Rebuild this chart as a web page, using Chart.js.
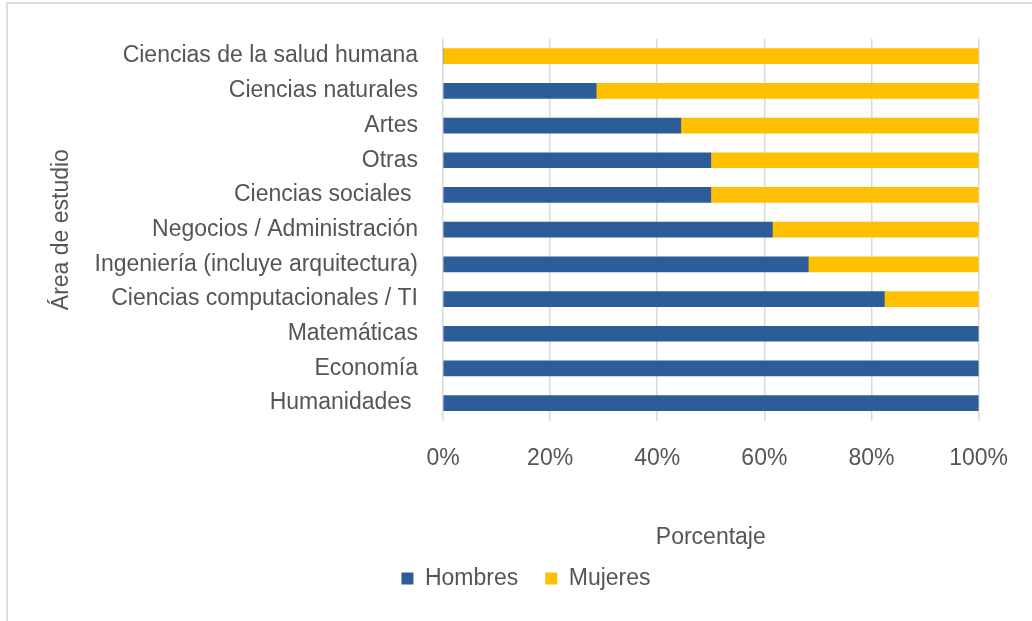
<!DOCTYPE html>
<html>
<head>
<meta charset="utf-8">
<script src="https://cdn.jsdelivr.net/npm/chart.js@4/dist/chart.umd.min.js"></script>
<style>
  body { margin: 0; background: #fff; }
  #wrap { position: relative; width: 1032px; height: 621px; }
  #frame { position: absolute; left: 6px; top: 2px; right: 0; bottom: 0;
           border-left: 2px solid #dcdcdc; border-top: 2px solid #dcdcdc; }
  canvas { position: absolute; left: 0; top: 0; }
</style>
</head>
<body>
<div id="wrap">
  <div id="frame"></div>
  <canvas id="chart" width="1032" height="621"></canvas>
</div>
<script>
var areas = [
  "Ciencias de la salud humana",
  "Ciencias naturales",
  "Artes",
  "Otras",
  "Ciencias sociales ",
  "Negocios / Administración",
  "Ingeniería (incluye arquitectura)",
  "Ciencias computacionales / TI",
  "Matemáticas",
  "Economía",
  "Humanidades "
];
var hombres = [0, 28.6, 44.4, 50, 50, 61.5, 68.2, 82.4, 100, 100, 100];
var mujeres = [100, 71.4, 55.6, 50, 50, 38.5, 31.8, 17.6, 0, 0, 0];
var xTicks = [0, 20, 40, 60, 80, 100];

var txt = "#555555";
var fnt = { family: "'Liberation Sans', Arial, sans-serif", size: 23 };

var ctx = document.getElementById("chart");
var chart = new Chart(ctx, {
  type: "bar",
  data: {
    labels: areas,
    datasets: [
      { label: "Hombres", data: hombres, backgroundColor: "#2c5d98", barThickness: 15 },
      { label: "Mujeres", data: mujeres, backgroundColor: "#ffc000", barThickness: 15 }
    ]
  },
  options: {
    indexAxis: "y",
    responsive: false,
    animation: false,
    layout: { padding: { left: 48, right: 28, top: 38, bottom: 21 } },
    plugins: {
      tooltip: { enabled: false },
      legend: {
        position: "bottom",
        labels: { boxWidth: 12, boxHeight: 12, padding: 27, color: txt, font: fnt }
      }
    },
    scales: {
      x: {
        stacked: true,
        min: 0,
        max: 100,
        afterBuildTicks: function (axis) {
          axis.ticks = xTicks.map(function (v) { return { value: v }; });
        },
        ticks: {
          padding: 24,
          color: txt,
          font: fnt,
          callback: function (v) { return v + "%"; }
        },
        grid: { color: "#d9d9d9", lineWidth: 1.5, drawTicks: false },
        border: { display: false },
        title: {
          display: true,
          text: "Porcentaje",
          color: txt,
          font: fnt,
          padding: { top: 27.6, bottom: -11.3 }
        }
      },
      y: {
        stacked: true,
        afterFit: function (axis) { axis.width = 395; },
        ticks: { padding: 25, color: txt, font: fnt },
        grid: { display: false, drawTicks: false },
        border: { display: false },
        title: {
          display: true,
          text: "Área de estudio",
          color: txt,
          font: fnt,
          padding: 0
        }
      }
    }
  }
});
</script>
</body>
</html>
